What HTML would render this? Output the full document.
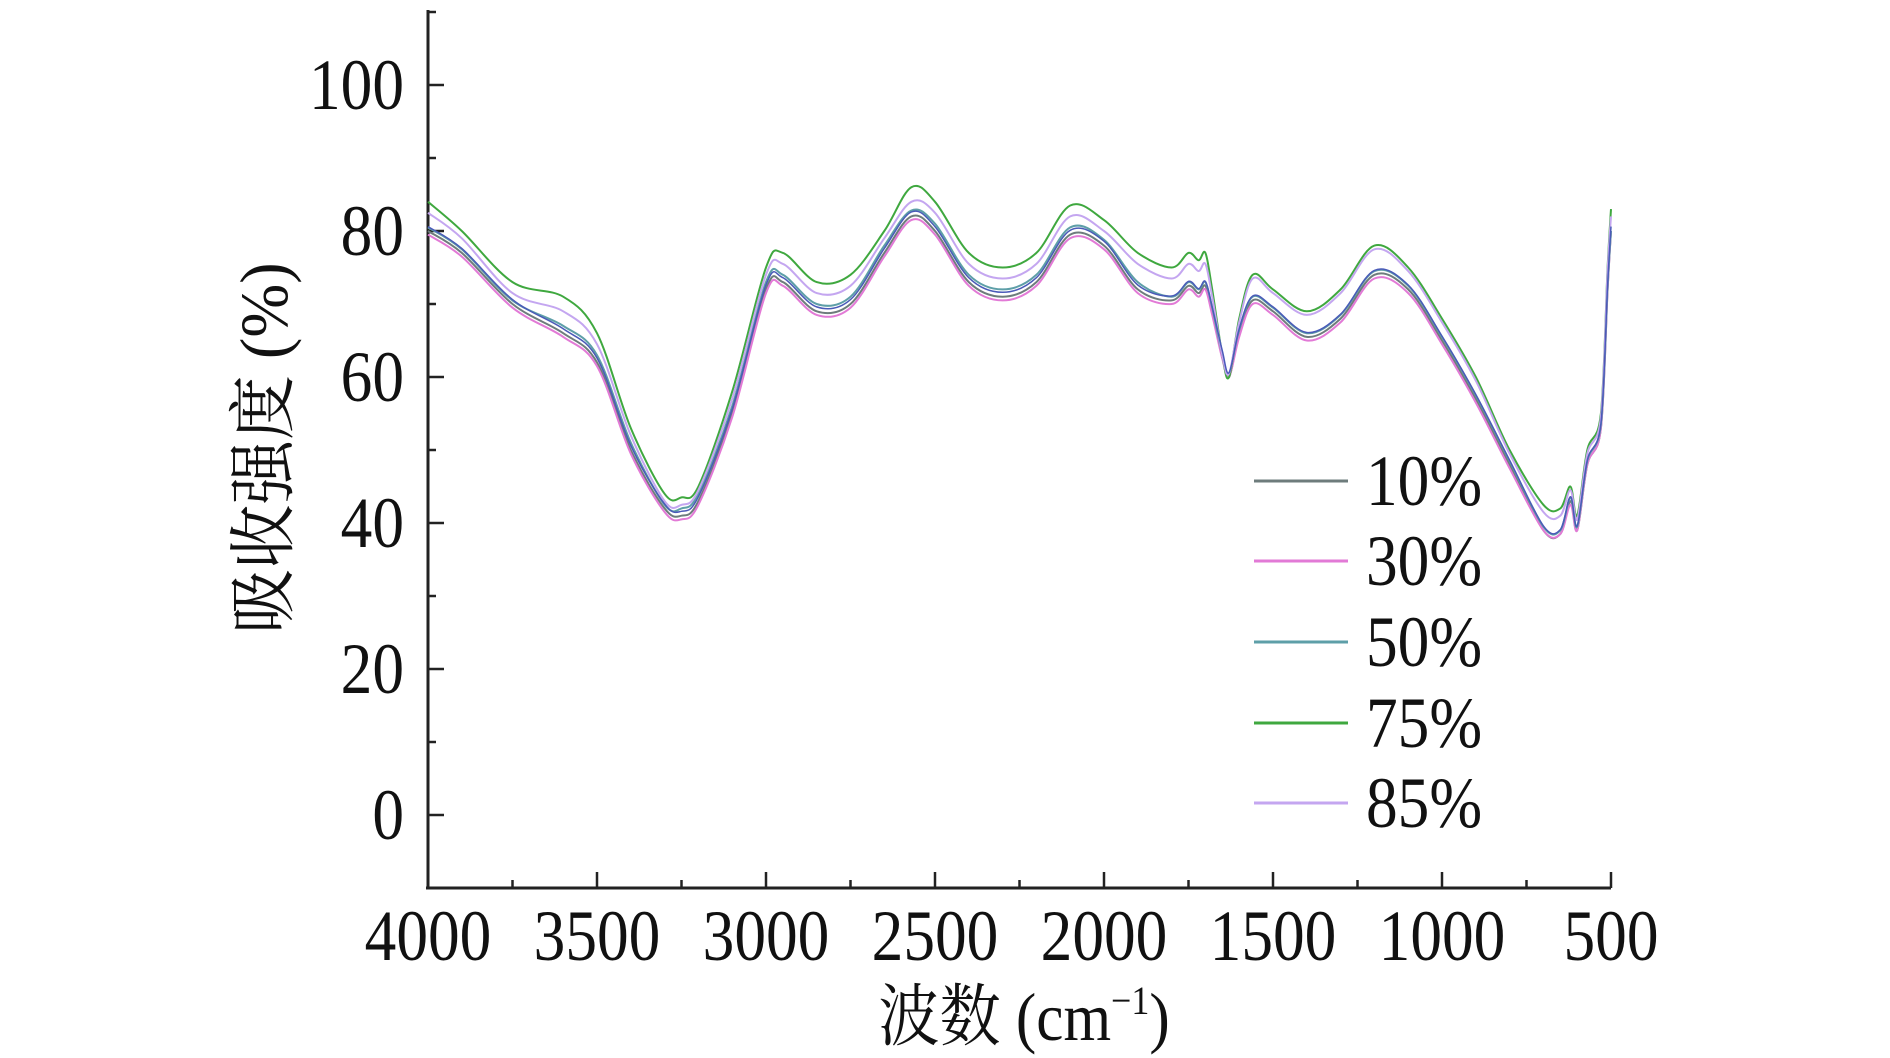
<!DOCTYPE html>
<html><head><meta charset="utf-8"><style>
html,body{margin:0;padding:0;background:#fff;}
svg{display:block;}
text{font-family:"Liberation Serif","Noto Serif CJK SC",serif;fill:#111;}
</style></head><body>
<svg id="chart" width="1890" height="1058">
<g id="axes"></g>
<g id="series"></g>
<g id="legend"></g>
<text transform="translate(1024,1040) scale(0.9,1)" font-size="68" text-anchor="middle">波数 (cm<tspan font-size="40" dy="-26">−1</tspan><tspan dy="26">)</tspan></text>
<text transform="translate(287,448) rotate(-90) scale(0.95,1)" font-size="68" text-anchor="middle">吸收强度 (%)</text>
</svg>
<script>
const wn = [4000,3900,3750,3600,3500,3400,3300,3250,3200,3100,3000,2950,2850,2750,2650,2570,2500,2400,2300,2200,2100,2000,1900,1800,1750,1720,1700,1680,1650,1630,1600,1560,1500,1400,1300,1200,1100,1000,900,800,700,650,620,600,570,530,510,500];
const s10 = [80,77,70,66,62,50,42,41,43,55,72,73,69,70,77,82,80,73,71,73,79.5,78,72,70.5,72.5,71.5,72.5,69,63,60,66,70.5,69,65.5,68,74,72,65,57,48,39,38.5,43,39,48,53,72,80];
const s30 = [79.5,76.5,69.5,65.5,61.5,49.5,41.5,40.5,42.5,54.5,71.5,72.5,68.5,69.5,76.5,81.5,79.5,72.5,70.5,72.5,79,77.5,71.5,70,72,71,72,68.5,62.5,60,65.5,70,68.5,65,67.5,73.5,71.5,64.5,56.5,47.5,39,38.5,42.5,39,48,53,72,80];
const s50 = [80.5,77.5,70.5,67,63,51,42.5,42,44,56,73,74,70,71,78,82.8,81,74,72,74,80.5,78.8,73,71,73,72,73,69.5,63,60.5,66.5,71,69.5,66,68.5,74.5,72.5,65.5,57.5,48.5,39.5,39,43.5,39.5,48.5,53.5,72.5,80];
const s75 = [84,80,73,71,66,53,44,43.5,45,58,75,77,73,74,80,86,84,77,75,77,83.5,81.5,77,75,77,76,77,72,63,60,68,74,72,69,72,78,75,68,60,50,42.5,42,45,41,50,55,75,83];
const s85 = [82.5,79,71.5,69,64.5,52,43,42.5,44.5,57,74,75.5,71.5,72.5,79,84,82.5,75.5,73.5,75.5,82,80,75.5,73.5,75.5,74.5,75.5,71,63,60.5,67.5,73.5,71.5,68.5,71.5,77.5,74.5,67.5,59.5,49.5,41.5,41,44.5,40.5,49.5,54.5,74.5,82];
const seriesNames = ["10%","30%","50%","75%","85%"];
const yTicks = [0,20,40,60,80,100];
const xTicks = [4000,3500,3000,2500,2000,1500,1000,500];

const NS="http://www.w3.org/2000/svg";
const L=428,R=1611,T=10,B=888;
const xs=v=>L+(4000-v)/3500*(R-L);
const ys=v=>815-v*7.3;
function mk(tag,attrs,parent){const e=document.createElementNS(NS,tag);for(const k in attrs)e.setAttribute(k,attrs[k]);parent.appendChild(e);return e;}
function smooth(pts){
  let d='M'+pts[0][0].toFixed(1)+','+pts[0][1].toFixed(1);
  for(let i=0;i<pts.length-1;i++){
    const p0=pts[i-1]||pts[i],p1=pts[i],p2=pts[i+1],p3=pts[i+2]||p2;
    const c1=[p1[0]+(p2[0]-p0[0])/6,p1[1]+(p2[1]-p0[1])/6];
    const c2=[p2[0]-(p3[0]-p1[0])/6,p2[1]-(p3[1]-p1[1])/6];
    d+=' C'+c1[0].toFixed(1)+','+c1[1].toFixed(1)+' '+c2[0].toFixed(1)+','+c2[1].toFixed(1)+' '+p2[0].toFixed(1)+','+p2[1].toFixed(1);
  }
  return d;
}
const ax=document.getElementById('axes');
let e=mk('line',{x1:L,y1:T,x2:L,y2:B,stroke:'#222','stroke-width':3},ax);


e=mk('line',{x1:L-2,y1:B,x2:R,y2:B,stroke:'#222','stroke-width':3},ax);


for(let v=-10;v<=110;v+=10){
  const y=ys(v); if(y<T||y>B-2) continue;
  const major=v%20===0;
  e=mk('line',{x1:L,y1:y,x2:L+(major?16:8),y2:y,stroke:'#222','stroke-width':2.5},ax);
  
  
}
yTicks.forEach(v=>{
  e=mk('text',{transform:'translate(404,'+(ys(v)+24)+') scale(0.88,1)','font-size':72,'text-anchor':'end'},ax);
  e.textContent=v;
  
  
});
for(let v=4000;v>=500;v-=250){
  const x=xs(v); const major=v%500===0;
  e=mk('line',{x1:x,y1:B,x2:x,y2:B-(major?16:8),stroke:'#222','stroke-width':2.5},ax);
  
  
}
xTicks.forEach(v=>{
  e=mk('text',{transform:'translate('+xs(v)+',960) scale(0.88,1)','font-size':72,'text-anchor':'middle'},ax);
  e.textContent=v;
  
  
});
const colors=['#6e7c7c','#e27ad6','#5e9fa8','#3fa83f','#c4a6f0'];
const data=[s10,s30,s50,s75,s85];
const sg=document.getElementById('series');
data.forEach((arr,i)=>{
  const d=smooth(arr.map((v,j)=>[xs(wn[j]),ys(v)]));
  e=mk('path',{d:d,fill:'none',stroke:colors[i],'stroke-width':2,'stroke-linejoin':'round'},sg);
  
  
});
e=mk('path',{d:smooth(s10.map((v,j)=>[xs(wn[j]),ys(v+0.6)])),fill:'none',stroke:'#4a5ab8','stroke-width':1.5},sg);


const lg=document.getElementById('legend');
const rows=[481,561,642,723,803];
seriesNames.forEach((n,i)=>{
  e=mk('line',{x1:1254,y1:rows[i],x2:1348,y2:rows[i],stroke:colors[i],'stroke-width':3},lg);
  
  
  e=mk('text',{transform:'translate(1366,'+(rows[i]+24)+') scale(0.88,1)','font-size':72},lg);
  e.textContent=n;
  
  
});
</script>
</body></html>
